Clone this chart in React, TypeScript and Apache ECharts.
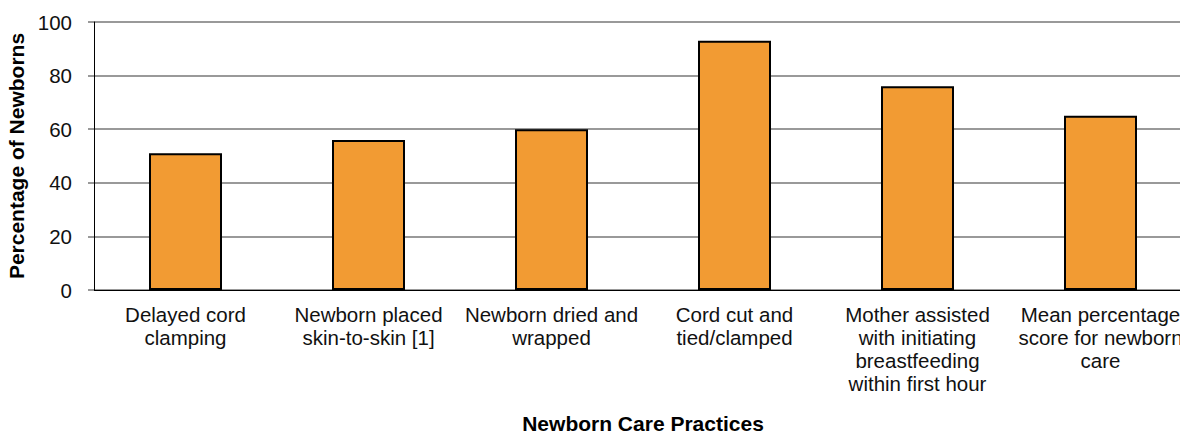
import React, { useEffect, useRef } from "react";
import * as echarts from "echarts";

const categories = [
  "Delayed cord\nclamping",
  "Newborn placed\nskin-to-skin [1]",
  "Newborn dried and\nwrapped",
  "Cord cut and\ntied/clamped",
  "Mother assisted\nwith initiating\nbreastfeeding\nwithin first hour",
  "Mean percentage\nscore for newborn\ncare",
];
const values = [51, 56, 60, 93, 76, 65];
const yTicks = { min: 0, max: 100, interval: 20 };
const xTitle = "Newborn Care Practices";
const yTitle = "Percentage of Newborns";

export default function App() {
  const ref = useRef<HTMLDivElement>(null);
  useEffect(() => {
    if (!ref.current) return;
    const chart = echarts.init(ref.current, null, { renderer: "svg" });
    const font = "'Liberation Sans', Arial, sans-serif";
    chart.setOption({
      animation: false,
      textStyle: { fontFamily: font },
      grid: {
        left: 94,
        right: 0,
        top: 22,
        bottom: 144,
        containLabel: false,
        outerBoundsMode: "none",
      },
      xAxis: {
        type: "category",
        data: categories,
        axisLine: { show: true, lineStyle: { color: "#000", width: 1 } },
        axisTick: { show: false },
        axisLabel: {
          interval: 0,
          margin: 13,
          fontSize: 20.5,
          lineHeight: 23,
          color: "#111",
          fontFamily: font,
          align: "center",
        },
        name: xTitle,
        nameLocation: "middle",
        nameGap: 123,
        nameTextStyle: { fontSize: 21, fontWeight: "bold", color: "#000", fontFamily: font },
      },
      yAxis: {
        type: "value",
        min: yTicks.min,
        max: yTicks.max,
        interval: yTicks.interval,
        axisLine: { show: true, lineStyle: { color: "#000", width: 1 } },
        axisTick: { show: true, length: 6, lineStyle: { color: "#999", width: 2 } },
        axisLabel: { margin: 22, fontSize: 20.5, color: "#111", fontFamily: font },
        splitLine: { show: true, lineStyle: { color: "#999", width: 2 } },
        name: yTitle,
        nameLocation: "middle",
        nameGap: 62,
        nameRotate: 90,
        nameTextStyle: { fontSize: 21, fontWeight: "bold", color: "#000", fontFamily: font },
      },
      series: [
        {
          type: "bar",
          data: values,
          barWidth: 73,
          itemStyle: { color: "#F29B33", borderColor: "#000", borderWidth: 2 },
        },
      ],
    });
    return () => chart.dispose();
  }, []);
  return (
    <div
      style={{
        position: "absolute",
        left: 0,
        top: 0,
        width: 1180,
        height: 434,
        overflow: "hidden",
        background: "#fff",
      }}
    >
      <div ref={ref} style={{ width: 1192, height: 434 }} />
    </div>
  );
}
